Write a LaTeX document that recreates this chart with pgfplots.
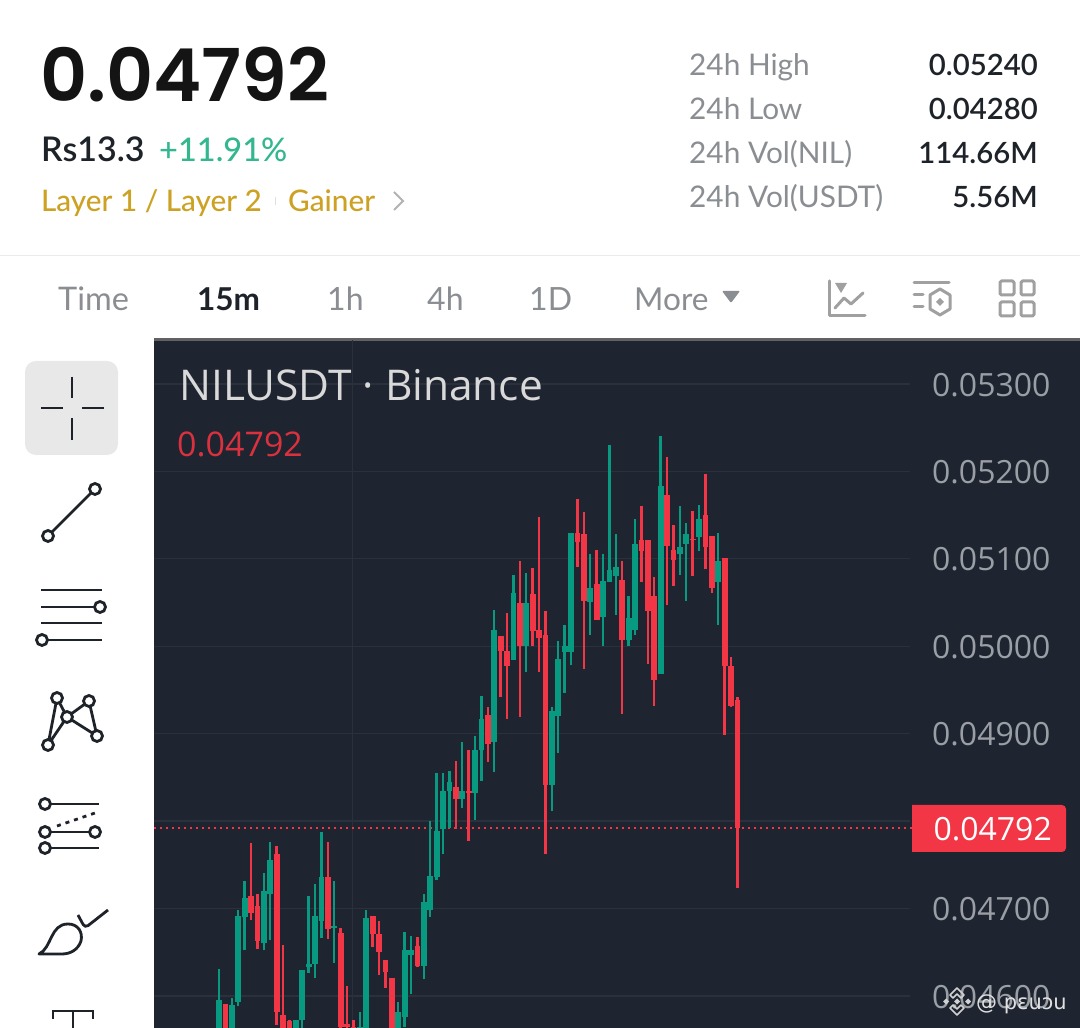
\documentclass[border=0pt]{standalone}
\usepackage{pgfplots}
\usepackage{pgfplotstable}
\usepackage{fontspec}
\pgfplotsset{compat=1.18}
\setmainfont{Lato}
\newfontfamily\lat{Lato}
\newfontfamily\latm{Lato Medium}
\newfontfamily\lats{Lato Semibold}
\newfontfamily\pop{Poppins SemiBold}
\newfontfamily\ops{Open Sans}
\newfontfamily\dej{DejaVu Sans}
\definecolor{panel}{HTML}{1E2430}
\definecolor{gridc}{HTML}{2A303C}
\definecolor{up}{HTML}{089981}
\definecolor{down}{HTML}{F23645}
\definecolor{ticktxt}{HTML}{9A9EA5}
\definecolor{ink}{HTML}{1E2329}
\definecolor{gold}{HTML}{CDA224}
\definecolor{uigrey}{HTML}{8A8D91}
\definecolor{icong}{HTML}{A0A0A0}
\definecolor{pct}{HTML}{34B78F}
\newcommand\txt[7]{\node[anchor=#1,inner sep=0pt,text=#4,font=#6\fontsize{#5}{#5}\selectfont] at (#2,#3) {#7};}
\pgfplotstableread{
i lo bot top hi
0 0.04540 0.04550 0.04595 0.04631
2 0.04540 0.04550 0.04590 0.04598
3 0.04588 0.04593 0.04691 0.04698
4 0.04652 0.04690 0.04712 0.04731
7 0.04652 0.04661 0.04720 0.04741
8 0.04664 0.04717 0.04756 0.04776
12 0.04540 0.04550 0.04572 0.04572
13 0.04563 0.04572 0.04630 0.04630
14 0.04626 0.04633 0.04637 0.04714
15 0.04620 0.04637 0.04691 0.04728
16 0.04666 0.04686 0.04736 0.04787
18 0.04638 0.04678 0.04680 0.04731
22 0.04540 0.04550 0.04565 0.04582
23 0.04540 0.04550 0.04689 0.04698
28 0.04540 0.04550 0.04582 0.04593
29 0.04565 0.04576 0.04653 0.04673
30 0.04602 0.04647 0.04653 0.04669
32 0.04619 0.04634 0.04707 0.04717
33 0.04690 0.04698 0.04737 0.04800
34 0.04733 0.04736 0.04789 0.04855
35 0.04762 0.04791 0.04834 0.04855
36 0.04792 0.04834 0.04845 0.04857
38 0.04815 0.04825 0.04834 0.04891
40 0.04801 0.04832 0.04881 0.04897
41 0.04846 0.04881 0.04917 0.04943
43 0.04856 0.04891 0.05018 0.05041
46 0.04984 0.04984 0.05061 0.05082
48 0.04971 0.05000 0.05050 0.05084
52 0.04811 0.04841 0.04926 0.04931
53 0.04878 0.04920 0.04985 0.05006
54 0.04947 0.04993 0.05000 0.05024
55 0.04978 0.04993 0.05130 0.05130
58 0.05013 0.05051 0.05067 0.05106
60 0.05000 0.05033 0.05075 0.05106
61 0.05074 0.05074 0.05087 0.05230
62 0.05036 0.05080 0.05091 0.05128
64 0.05000 0.05007 0.05032 0.05057
65 0.05013 0.05019 0.05117 0.05146
69 0.04968 0.04968 0.05183 0.05241
72 0.05082 0.05106 0.05114 0.05160
73 0.05052 0.05117 0.05128 0.05141
75 0.05109 0.05125 0.05146 0.05162
78 0.05024 0.05073 0.05097 0.05130
}\upcandles
\pgfplotstableread{
i lo bot top hi
1 0.04540 0.04550 0.04591 0.04591
5 0.04687 0.04695 0.04714 0.04775
6 0.04654 0.04663 0.04703 0.04717
9 0.04567 0.04582 0.04762 0.04772
10 0.04540 0.04550 0.04578 0.04658
11 0.04540 0.04550 0.04571 0.04572
17 0.04665 0.04677 0.04736 0.04776
19 0.04550 0.04565 0.04672 0.04678
20 0.04550 0.04565 0.04568 0.04611
21 0.04540 0.04550 0.04565 0.04572
24 0.04656 0.04671 0.04691 0.04691
25 0.04624 0.04650 0.04671 0.04686
26 0.04609 0.04627 0.04641 0.04641
27 0.04540 0.04550 0.04620 0.04621
31 0.04633 0.04634 0.04657 0.04667
37 0.04791 0.04825 0.04839 0.04869
39 0.04777 0.04832 0.04834 0.04881
42 0.04867 0.04888 0.04921 0.04930
44 0.04942 0.04995 0.05012 0.05012
45 0.04917 0.04977 0.04995 0.05038
47 0.04919 0.05000 0.05050 0.05097
49 0.05000 0.05017 0.05060 0.05089
50 0.04970 0.05009 0.05019 0.05148
51 0.04762 0.04841 0.05013 0.05040
56 0.05091 0.05119 0.05130 0.05168
57 0.04974 0.05052 0.05128 0.05153
59 0.05030 0.05030 0.05071 0.05110
63 0.04923 0.05007 0.05076 0.05098
66 0.05073 0.05109 0.05122 0.05160
67 0.04980 0.05040 0.05122 0.05122
68 0.04932 0.04961 0.05057 0.05079
70 0.05047 0.05115 0.05173 0.05216
71 0.05069 0.05099 0.05110 0.05139
74 0.05080 0.05121 0.05123 0.05155
76 0.05088 0.05114 0.05150 0.05197
77 0.05061 0.05067 0.05126 0.05126
79 0.04899 0.04977 0.05101 0.05101
80 0.04931 0.04932 0.04977 0.04988
81 0.04724 0.04792 0.04939 0.04942
}\downcandles
\begin{document}
\begin{tikzpicture}
\useasboundingbox (0,0) rectangle (1080pt,1028pt);
\fill[white] (0,0) rectangle (1080pt,1028pt);
\clip (0,0) rectangle (1080pt,1028pt);
\fill[panel] (154pt,0) rectangle (1080pt,688pt);
\fill[black!62] (154pt,687pt) rectangle (1080pt,690pt);
\begin{axis}[
  at={(154pt,0pt)},anchor=south west,scale only axis,width=926pt,height=688pt,
  xmin=-10.156,xmax=134.53,ymin=0.045633,ymax=0.053503,
  axis line style={draw=none},major tick length=0,
  xtick=\empty,
  ytick={0.046,0.047,0.049,0.050,0.051,0.052,0.053},
  yticklabels={0.04600,0.04700,0.04900,0.05000,0.05100,0.05200,0.05300},
  yticklabel pos=right,scaled y ticks=false,
  y tick label style={anchor=east,xshift=-26pt,yshift=-0.8pt,text=ticktxt,font=\ops\fontsize{32}{32}\selectfont},
  unbounded coords=jump,clip=true,
]
\addplot[gridc,line width=1.2pt] coordinates {
 (-10.156,0.046)(107.97,0.046)(0,nan)
 (-10.156,0.047)(107.97,0.047)(0,nan)
 (-10.156,0.048)(107.97,0.048)(0,nan)
 (-10.156,0.049)(107.97,0.049)(0,nan)
 (-10.156,0.050)(107.97,0.050)(0,nan)
 (-10.156,0.051)(107.97,0.051)(0,nan)
 (-10.156,0.052)(107.97,0.052)(0,nan)
 (-10.156,0.053)(107.97,0.053)(0,nan)
 (20.9,0.045633)(20.9,0.053503)};
\addplot[down,line width=1.7pt,dash pattern=on 2pt off 4pt] coordinates {(-10.156,0.04792)(108.3,0.04792)};
\addplot[draw=none,mark=none,forget plot,error bars/.cd,y dir=plus,y explicit,error mark=none,
  error bar style={up,line width=2.3pt}] table[x=i,y=lo,y error plus expr=\thisrow{hi}-\thisrow{lo}] {\upcandles};
\addplot[draw=none,mark=none,forget plot,error bars/.cd,y dir=plus,y explicit,error mark=none,
  error bar style={up,line width=5.8pt}] table[x=i,y=bot,y error plus expr=\thisrow{top}-\thisrow{bot}] {\upcandles};
\addplot[draw=none,mark=none,forget plot,error bars/.cd,y dir=plus,y explicit,error mark=none,
  error bar style={down,line width=2.3pt}] table[x=i,y=lo,y error plus expr=\thisrow{hi}-\thisrow{lo}] {\downcandles};
\addplot[draw=none,mark=none,forget plot,error bars/.cd,y dir=plus,y explicit,error mark=none,
  error bar style={down,line width=5.8pt}] table[x=i,y=bot,y error plus expr=\thisrow{top}-\thisrow{bot}] {\downcandles};
\end{axis}
\begin{scope}[shift={(0,1028pt)},x=1pt,y=-1pt]
% header
\txt{base west}{40}{102}{black!92}{73}{\pop}{0.04792}
\txt{base west}{41}{162}{ink}{34}{\lats}{Rs13.3}
\txt{base west}{159}{162}{pct}{32.5}{\latm}{+11.91\%}
\txt{base west}{41}{212}{gold}{29.7}{\latm}{Layer 1 / Layer 2}
\fill[black!12] (274.5,197) rectangle (276,205);
\txt{base west}{288}{212}{gold}{29.7}{\latm}{Gainer}
\draw[black!30,line width=2pt] (394,192)--(403,201)--(394,210);
\foreach \lab/\val/\yy in {24h High/0.05240/76,24h Low/0.04280/120,24h Vol(NIL)/114.66M/164,24h Vol(USDT)/5.56M/208}{
  \txt{base west}{689}{\yy}{uigrey}{29.8}{\lat}{\lab}
  \txt{base east}{1038}{\yy}{ink}{29.3}{\lats}{\val}
}
\draw[black!8,line width=1pt] (0,255.5)--(1080,255.5);
% tabs
\txt{base west}{58}{311}{uigrey}{32.5}{\lat}{Time}
\txt{base west}{197}{311}{ink}{31.5}{\lat\bfseries}{15m}
\txt{base west}{327}{311}{uigrey}{32}{\lat}{1h}
\txt{base west}{427}{311}{uigrey}{32}{\lat}{4h}
\txt{base west}{529}{311}{uigrey}{32}{\lat}{1D}
\txt{base west}{634}{311}{uigrey}{31.6}{\lat}{More}
\fill[uigrey,rounded corners=1pt] (722,291)--(740,291)--(731,303)--cycle;
% top-right icons
\begin{scope}[icong,line width=3pt,line cap=round,line join=round]
\draw (829,281)--(829,315.5)--(865,315.5);
\fill (835,283)--(847,283)--(841,293)--cycle;
\draw (835,308)--(844,298)--(851,304)--(863,293);
\draw (914,283)--(949,283);
\draw (914,295)--(923,295) (914,307)--(923,307);
\draw (940,289)--(950,295)--(950,309)--(940,315)--(930,309)--(930,295)--cycle;
\fill (940,298)--(944,302)--(940,306)--(936,302)--cycle;
\draw[rounded corners=1.5pt] (1000,281) rectangle (1014,295);
\draw[rounded corners=1.5pt] (1021,281) rectangle (1034,295);
\draw[rounded corners=1.5pt] (1000,302) rectangle (1014,316);
\draw[rounded corners=1.5pt] (1021,302) rectangle (1034,316);
\end{scope}
% sidebar
\fill[black!9,rounded corners=11pt] (25,361) rectangle (118,455);
\begin{scope}[ink,line width=2.8pt]
\draw (41,408)--(63,408) (82,408)--(104,408) (72,377)--(72,398) (72,418)--(72,440);
\draw (52,532)--(91,493);
\draw (48,536) circle (5.5) (95,489) circle (5.5);
\draw (41,590)--(102,590) (41,607)--(94,607) (41,623)--(102,623) (48,640)--(102,640);
\draw (100,607) circle (5.5) (42,640) circle (5.5);
\draw (48,745)--(57,698)--(67,717)--(48,745) (67,717)--(89,701)--(97,736)--(67,717);
\draw[fill=white] (57,698) circle (5.5) (89,701) circle (5.5) (67,717) circle (5.5) (97,736) circle (5.5) (48,745) circle (5.5);
\draw (51,804)--(99,804) (51,832)--(89,832) (51,848)--(99,848);
\draw[dash pattern=on 4pt off 5pt] (57,826)--(95,813);
\draw (45,804) circle (5.5) (45,832) circle (5.5) (95,832) circle (5.5) (45,848) circle (5.5);
\draw[line join=round] (39,954) .. controls (52,948) and (50,924) .. (68,924) .. controls (78,924) and (83,932) .. (81,941) .. controls (78,950) and (70,954) .. (62,954) -- cycle;
\draw[rounded corners=4pt] (78,915)--(85,928)--(108,910);
\draw (53,1019)--(53,1011)--(93,1011)--(93,1019) (73,1011)--(73,1028);
\end{scope}
% chart texts
\txt{base west}{179}{401}{white!85!black}{42.4}{\ops}{NILUSDT · Binance}
\txt{base west}{177}{457}{down!90!black}{34}{\ops}{0.04792}
% price tag
\fill[down] (912,805) -- (1062,805) arc[start angle=-90,end angle=0,radius=4] -- (1066,848) arc[start angle=0,end angle=90,radius=4] -- (912,852) -- cycle;
\txt{base east}{1052}{841}{white}{32}{\ops}{0.04792}
% watermark
\begin{scope}[white!82!black,line width=1.6pt,line join=round]
\draw (957,988)--(964,995)--(961,998)--(957,994)--(953,998)--(950,995)--cycle;
\draw (957,1015)--(964,1008)--(961,1005)--(957,1009)--(953,1005)--(950,1008)--cycle;
\fill (957,998.5)--(960,1001.5)--(957,1004.5)--(954,1001.5)--cycle;
\fill (946,998.5)--(949,1001.5)--(946,1004.5)--(943,1001.5)--cycle;
\fill (968,998.5)--(971,1001.5)--(968,1004.5)--(965,1001.5)--cycle;
\end{scope}
\txt{base west}{976}{1010}{white!88!black}{21}{\dej}{@ pɛuɔu}
\end{scope}
\end{tikzpicture}
\end{document}
